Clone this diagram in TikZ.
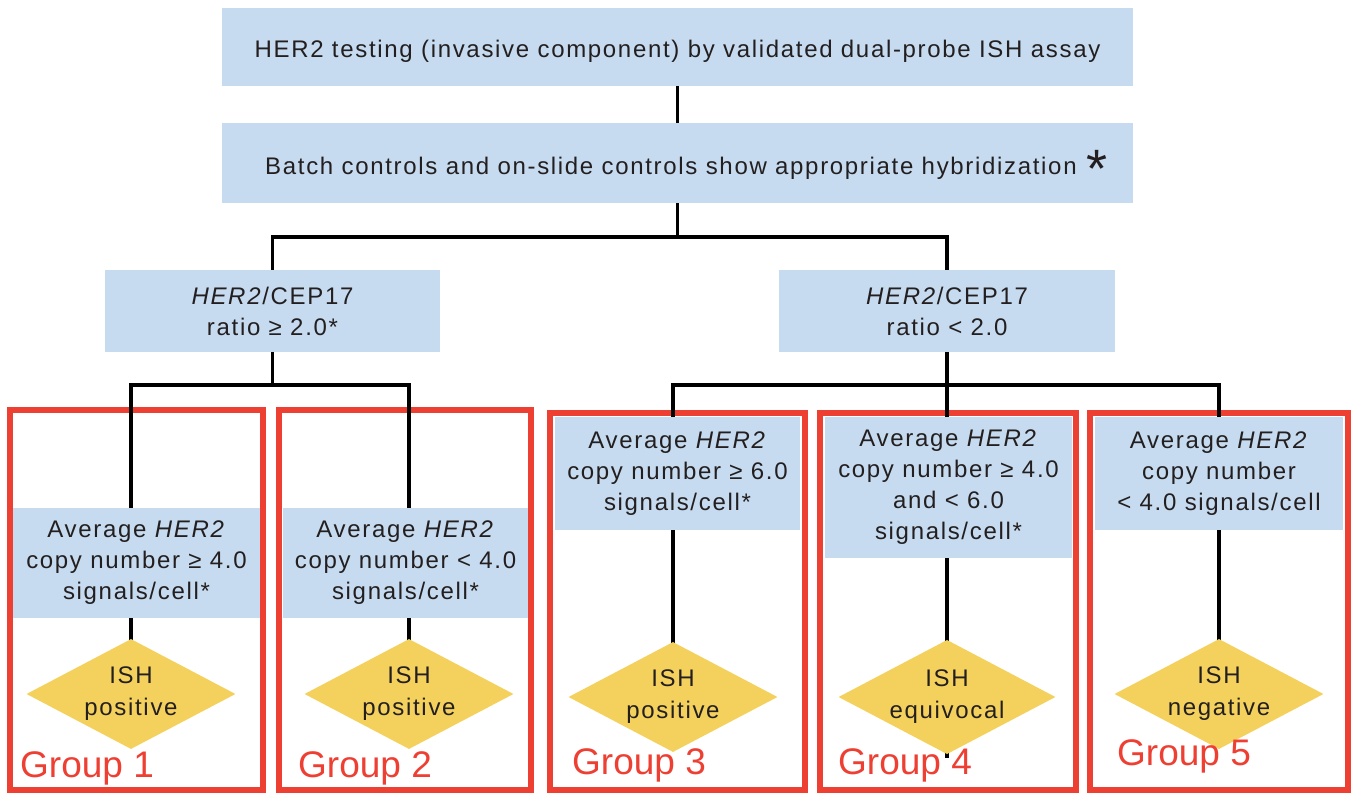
\documentclass[tikz,border=0pt]{standalone}
\usepackage{fontspec}
\setmainfont{Liberation Sans}
\newfontfamily\spacedsans[LetterSpace=7]{Liberation Sans}
\usetikzlibrary{shapes.geometric}

\definecolor{boxblue}{HTML}{C6DBEF}
\definecolor{diamyel}{HTML}{F4D05C}
\definecolor{grpred}{HTML}{EE3F33}
\definecolor{ink}{HTML}{231F20}

\begin{document}
\begin{tikzpicture}[x=1pt,y=-1pt,
  box/.style={fill=boxblue, inner sep=0pt, align=center, text=ink,
    font=\spacedsans\fontsize{24}{31}\selectfont},
  diam/.style={diamond, fill=diamyel, inner sep=0pt, aspect=1.9,
    minimum width=209pt, minimum height=110pt, align=center, text=ink,
    font=\spacedsans\fontsize{24}{32}\selectfont},
  grp/.style={draw=grpred, line width=5.5pt, inner sep=0pt},
  grplabel/.style={anchor=base west, text=grpred, inner sep=0pt,
    font=\fontsize{37}{37}\selectfont},
  conn/.style={draw=black, line width=3.5pt}]

\useasboundingbox (0,0) rectangle (1353,794);

% group frames
\node[grp, minimum width=253pt, minimum height=380pt] (g1) at (136.5,600) {};
\node[grp, minimum width=252pt, minimum height=380pt] (g2) at (405,600) {};
\node[grp, minimum width=255pt, minimum height=377pt] (g3) at (677.5,601.5) {};
\node[grp, minimum width=256pt, minimum height=377pt] (g4) at (948,601.5) {};
\node[grp, minimum width=258pt, minimum height=377pt] (g5) at (1219,601.5) {};

% top of the chart
\node[box, minimum width=911pt, minimum height=78pt, text height=21pt, text depth=0pt]
  (top) at (677.5,47)
  {HER2 testing (invasive component) by validated dual-probe ISH assay};
\node[box, minimum width=911pt, minimum height=80pt, text height=23pt, text depth=0pt]
  (batch) at (677.5,163)
  {\hspace*{18pt}Batch controls and on-slide controls show appropriate hybridization\hspace{10pt}\smash{\raisebox{-13pt}{\fontsize{54}{54}\selectfont *}}};

% ratio branches
\node[box, minimum width=335pt, minimum height=82pt] (r1) at (272.5,311)
  {\textit{HER2}/CEP17\\ratio ≥ 2.0*};
\node[box, minimum width=336pt, minimum height=82pt] (r2) at (947,311)
  {\textit{HER2}/CEP17\\ratio < 2.0};

% copy number criteria
\node[box, minimum width=247pt, minimum height=110pt] (b1) at (136.5,563)
  {Average \textit{HER2}\\copy number ≥ 4.0\\signals/cell*};
\node[box, minimum width=245pt, minimum height=110pt] (b2) at (405.5,563)
  {Average \textit{HER2}\\copy number < 4.0\\signals/cell*};
\node[box, minimum width=245pt, minimum height=113pt] (b3) at (677.5,473.5)
  {Average \textit{HER2}\\copy number ≥ 6.0\\signals/cell*};
\node[box, minimum width=247pt, minimum height=141pt] (b4) at (948.5,487.5)
  {Average \textit{HER2}\\copy number ≥ 4.0\\and < 6.0\\signals/cell*};
\node[box, minimum width=248pt, minimum height=113pt] (b5) at (1219,473.5)
  {Average \textit{HER2}\\copy number\\< 4.0 signals/cell};

% result positions (the shapes are drawn after the connectors)
\coordinate (p1) at (131,694);
\coordinate (p2) at (409,694);
\coordinate (p3) at (673,697);
\coordinate (p4) at (947,697);
\coordinate (p5) at (1219,694);

% connectors
\draw[conn] (top) -- (batch);
\draw[conn] (batch.south) -- ++(0,34) coordinate (ja);
\draw[conn] (r1.north) |- (ja) -| (r2.north);

\draw[conn] (r1.south) -- ++(0,33) coordinate (jl);
\draw[conn] (p1 |- b1.north) |- (jl) -| (p2 |- b2.north);
\draw[conn] (p1 |- b1.south) -- (p1);
\draw[conn] (p2 |- b2.south) -- (p2);

\draw[conn] (r2.south) -- ++(0,33) coordinate (jr);
\draw[conn] (p3 |- b3.north) |- (jr) -| (p5 |- b5.north);
\draw[conn] (jr) -- (p4 |- b4.north);
\draw[conn] (p3 |- b3.south) -- (p3);
\draw[conn] (p4 |- b4.south) -- ([yshift=-61pt]p4);
\draw[conn] (p5 |- b5.south) -- (p5);

% results
\node[diam] (d1) at (p1) {ISH\\positive};
\node[diam] (d2) at (p2) {ISH\\positive};
\node[diam] (d3) at (p3) {ISH\\positive};
\node[diam] (d4) at (p4) {ISH\\equivocal};
\node[diam] (d5) at (p5) {ISH\\negative};

% group labels
\node[grplabel] (l1) at (20,777) {Group 1};
\node[grplabel] (l2) at (298,777) {Group 2};
\node[grplabel] (l3) at (572,774) {Group 3};
\node[grplabel] (l4) at (838,774) {Group 4};
\node[grplabel] (l5) at (1117,765) {Group 5};
\end{tikzpicture}
\end{document}
